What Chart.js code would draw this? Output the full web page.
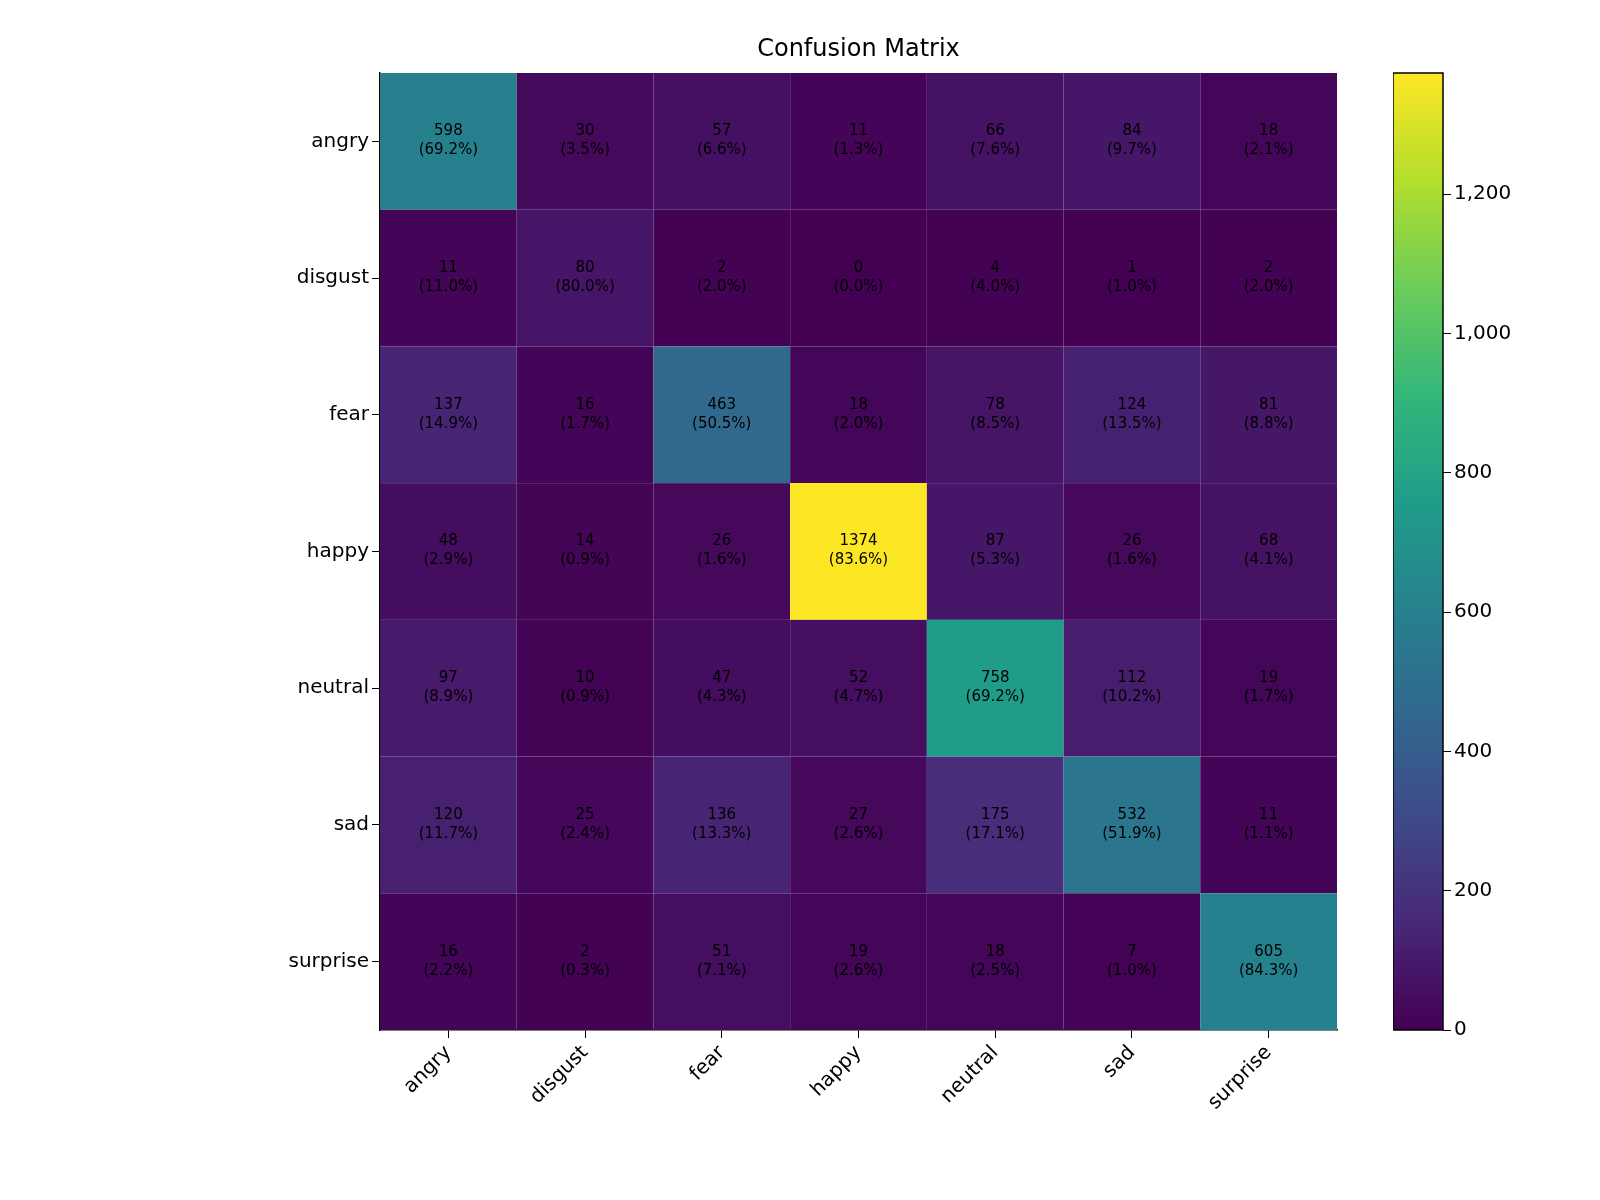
<!DOCTYPE html>
<html>
<head>
<meta charset="utf-8">
<script src="https://cdn.jsdelivr.net/npm/chart.js@4/dist/chart.umd.min.js"></script>
<style>
  body { margin: 0; background: #fff; }
  #wrap { position: relative; width: 1600px; height: 1200px; }
  #main { position: absolute; left: 0; top: 0; }
  #cbar { position: absolute; left: 1393px; top: 0; }
</style>
</head>
<body>
<div id="wrap">
  <canvas id="main" width="1600" height="1200"></canvas>
  <canvas id="cbar" width="207" height="1200"></canvas>
</div>
<script>
let classes = ["angry", "disgust", "fear", "happy", "neutral", "sad", "surprise"];

let counts = [
    [598, 30, 57, 11, 66, 84, 18],
    [11, 80, 2, 0, 4, 1, 2],
    [137, 16, 463, 18, 78, 124, 81],
    [48, 14, 26, 1374, 87, 26, 68],
    [97, 10, 47, 52, 758, 112, 19],
    [120, 25, 136, 27, 175, 532, 11],
    [16, 2, 51, 19, 18, 7, 605]
];

let colorbarTicks = [0, 200, 400, 600, 800, 1000, 1200];

let vmax = 1374;

// viridis stops
let viridis = [
    [68, 1, 84], [72, 40, 120], [62, 74, 137], [49, 104, 142],
    [38, 130, 142], [31, 158, 137], [53, 183, 121], [109, 205, 89],
    [180, 222, 44], [253, 231, 37]
];

function viridisColor(t) {
    t = Math.min(1, Math.max(0, t));
    let p = t * (viridis.length - 1);
    let i = Math.min(Math.floor(p), viridis.length - 2);
    let f = p - i;
    let a = viridis[i], b = viridis[i + 1];
    let c = a.map((v, k) => Math.round(v + (b[k] - v) * f));
    return "rgb(" + c.join(",") + ")";
}

let font = "DejaVu Sans";

/* Heatmap cells + labels */
const heatmapPlugin = {
    id: "heatmap",
    beforeDatasetsDraw(chart) {
        let ctx = chart.ctx;
        let xs = chart.scales.x, ys = chart.scales.y;
        ctx.save();
        counts.forEach((row, r) => {
            let total = row.reduce((a, b) => a + b, 0);
            row.forEach((v, c) => {
                let x0 = xs.getPixelForValue(c - 0.5), x1 = xs.getPixelForValue(c + 0.5);
                let y0 = ys.getPixelForValue(r - 0.5), y1 = ys.getPixelForValue(r + 0.5);
                ctx.fillStyle = viridisColor(v / vmax);
                ctx.fillRect(x0, y0, x1 - x0, y1 - y0);
                let cx = (x0 + x1) / 2, cy = (y0 + y1) / 2;
                ctx.fillStyle = "black";
                ctx.font = "15px '" + font + "'";
                ctx.textAlign = "center";
                ctx.textBaseline = "middle";
                ctx.fillText(String(v), cx, cy - 10);
                ctx.fillText("(" + (v / total * 100).toFixed(1) + "%)", cx, cy + 9);
            });
        });
        // title
        ctx.font = "24px '" + font + "'";
        ctx.textAlign = "center";
        ctx.textBaseline = "alphabetic";
        ctx.fillText("Confusion Matrix", (chart.chartArea.left + chart.chartArea.right) / 2, 56);
        ctx.restore();
    }
};

let axisFont = { family: font, size: 20 };

new Chart(document.getElementById("main"), {
    type: "scatter",
    data: { datasets: [{ data: [] }] },
    plugins: [heatmapPlugin],
    options: {
        responsive: false,
        animation: false,
        layout: { padding: { top: 73, right: 263, left: 0, bottom: 0 } },
        plugins: { legend: { display: false }, tooltip: { enabled: false } },
        scales: {
            x: {
                type: "linear",
                min: -0.5, max: 6.5,
                afterBuildTicks: s => { s.ticks = classes.map((_, i) => ({ value: i })); },
                afterFit: s => { s.height = 170; },
                ticks: {
                    callback: v => classes[v],
                    color: "black", font: axisFont,
                    maxRotation: 45, minRotation: 45, autoSkip: false
                },
                grid: { drawOnChartArea: false, color: "black", tickLength: 8 },
                border: { color: "black", width: 1.5 }
            },
            y: {
                type: "linear",
                reverse: true,
                min: -0.5, max: 6.5,
                afterBuildTicks: s => { s.ticks = classes.map((_, i) => ({ value: i })); },
                afterFit: s => { s.width = 380; },
                ticks: { callback: v => classes[v], color: "black", font: axisFont, autoSkip: false },
                grid: { drawOnChartArea: false, color: "black", tickLength: 8 },
                border: { color: "black", width: 1.5 }
            }
        }
    }
});

/* Colorbar */
const colorbarPlugin = {
    id: "colorbar",
    beforeDatasetsDraw(chart) {
        let ctx = chart.ctx, a = chart.chartArea, ys = chart.scales.y;
        let g = ctx.createLinearGradient(0, ys.getPixelForValue(0), 0, ys.getPixelForValue(vmax));
        viridis.forEach((c, i) => g.addColorStop(i / (viridis.length - 1), "rgb(" + c.join(",") + ")"));
        ctx.save();
        ctx.fillStyle = g;
        ctx.fillRect(a.left, a.top, a.right - a.left, a.bottom - a.top);
        ctx.strokeStyle = "black";
        ctx.lineWidth = 1.5;
        ctx.strokeRect(a.left, a.top, a.right - a.left, a.bottom - a.top);
        ctx.restore();
    }
};

new Chart(document.getElementById("cbar"), {
    type: "scatter",
    data: { datasets: [{ data: [] }] },
    plugins: [colorbarPlugin],
    options: {
        responsive: false,
        animation: false,
        layout: { padding: { top: 73, right: 0, left: 0, bottom: 170 } },
        plugins: { legend: { display: false }, tooltip: { enabled: false } },
        scales: {
            x: { display: false, min: 0, max: 1 },
            y: {
                position: "right",
                min: 0, max: vmax,
                afterBuildTicks: s => { s.ticks = colorbarTicks.map(v => ({ value: v })); },
                afterFit: s => { s.width = 157; },
                ticks: { color: "black", font: axisFont },
                grid: { drawOnChartArea: false, color: "black", tickLength: 8 },
                border: { display: false }
            }
        }
    }
});
</script>
</body>
</html>
